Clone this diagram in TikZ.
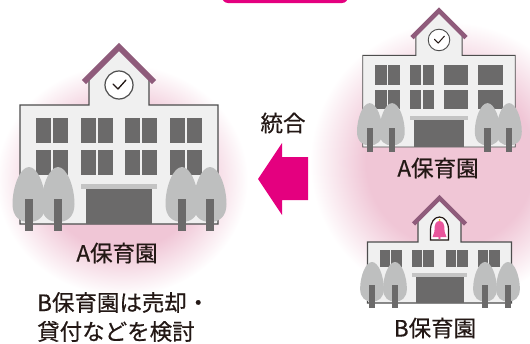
\documentclass[tikz,border=0pt]{standalone}
\usepackage{fontspec}
\setmainfont{Noto Sans CJK JP}[FakeBold=0.5]
\usepackage{xcolor}

\definecolor{glowpink}{HTML}{F0C6D6}
\definecolor{accent}{HTML}{E4007F}
\definecolor{roofpurple}{HTML}{8F5B7B}
\definecolor{wallgray}{HTML}{F0F0F0}
\definecolor{linegray}{HTML}{4D4D4D}
\definecolor{panegray}{HTML}{6B6A6A}
\definecolor{crowngray}{HTML}{BEBFBF}
\definecolor{awninggray}{HTML}{C4C4C4}
\definecolor{bellpink}{HTML}{E8559B}
\definecolor{bellgold}{HTML}{F2C500}
\definecolor{textdark}{HTML}{231815}

\pgfdeclareradialshading{glow}{\pgfpointorigin}{color(0bp)=(glowpink); color(15bp)=(glowpink); color(25bp)=(white); color(50bp)=(white)}

\tikzset{
  wall/.style={fill=wallgray, draw=linegray},
  roof/.style={draw=roofpurple},
  pane/.style={fill=panegray},
  mullion/.style={draw=wallgray},
  crown/.style={fill=crowngray},
  trunk/.style={fill=panegray},
  awning/.style={fill=awninggray},
  clockface/.style={fill=white, draw=linegray},
  hands/.style={draw=textdark, line cap=round, line join=round},
  namelabel/.style={text=textdark, font=\fontsize{22.5}{29}\selectfont, inner sep=0pt}
}

% tree: x, top of crown, size
\newcommand{\parktree}[3]{%
  \fill[crown] (#1,#2) .. controls (#1+9*#3,#2) and (#1+16.5*#3,#2+20*#3) .. (#1+16.5*#3,#2+37*#3)
    .. controls (#1+16.5*#3,#2+50*#3) and (#1+9*#3,#2+55*#3) .. (#1,#2+55*#3)
    .. controls (#1-9*#3,#2+55*#3) and (#1-16.5*#3,#2+50*#3) .. (#1-16.5*#3,#2+37*#3)
    .. controls (#1-16.5*#3,#2+20*#3) and (#1-9*#3,#2) .. (#1,#2) -- cycle;
  \fill[trunk] (#1-4*#3,#2+32*#3) rectangle (#1+4*#3,#2+64*#3);
}

% school with clock tower: x, ground, scale, split windows
\newcommand{\clockschool}[4]{%
  \begin{scope}[shift={(#1,#2)}, scale=#3]
    \filldraw[wall, line width=1.2pt*#3] (-99,0) -- (-99,-119) -- (-30,-119) -- (-30,-147) -- (0,-177)
      -- (30,-147) -- (30,-119) -- (99,-119) -- (99,0) -- cycle;
    \draw[roof, line width=6pt*#3] (-35,-142) -- (0,-177) -- (35,-142);
    \filldraw[clockface, line width=1.2pt*#3] (0,-139) circle (14);
    \draw[hands, line width=1.3pt*#3] (-6,-140) -- (-1,-135) -- (7,-144);
    \foreach \wx in {-83,-38,6,51} {
      \fill[pane] (\wx,-106) rectangle ++(32,25);
      \fill[pane] (\wx,-74) rectangle ++(32,25);
    }
    \foreach \wx in {#4}
      \draw[mullion, line width=2pt*#3] (\wx+16,-107) -- (\wx+16,-48);
    \fill[awning] (-38,-40) rectangle (38,-35);
    \fill[pane] (-33,-35) rectangle (33,0);
    \parktree{-90}{-57}{1}
    \parktree{-61}{-57}{1}
    \parktree{63}{-57}{1}
    \parktree{91}{-57}{1}
  \end{scope}
}

\begin{document}
\begin{tikzpicture}[x=1pt, y=-1pt]
  \useasboundingbox (0,0) rectangle (530,343);

  % pink glow behind the buildings
  \shade[shading=glow] (122,180) ellipse (126 and 116);
  \shade[shading=glow] (450,162) circle (140);

  % banner edge
  \fill[accent, rounded corners=6] (222,-20) rectangle (348,3);

  % the merged school
  \clockschool{119}{224}{1}{-83,-38,6,51}
  \node[namelabel] (a-left) at (117,253) {A保育園};

  % A school, right
  \clockschool{439}{147}{0.77}{-83,-38}
  \node[namelabel] (a-right) at (438,168) {A保育園};

  % B school with bell
  \begin{scope}[shift={(439.5,303)}]
    \filldraw[wall, line width=1.1pt] (-72,0) -- (-72,-61) -- (-21.5,-61) -- (-21.5,-83.5) -- (0,-105)
      -- (21.5,-83.5) -- (21.5,-61) -- (72,-61) -- (72,0) -- cycle;
    \draw[roof, line width=4.5pt] (-26,-79) -- (0,-105) -- (26,-79);
    \filldraw[fill=white, draw=textdark, line width=1.2pt] (-9,-63) -- (-9,-73)
      .. controls (-9,-81) and (-5,-86) .. (0,-86) .. controls (5,-86) and (9,-81) .. (9,-73) -- (9,-63) -- cycle;
    \fill[bellpink] (0,-82) .. controls (4,-82) and (5,-78) .. (5,-73) .. controls (5,-69) and (7,-68) .. (7,-66)
      -- (-7,-66) .. controls (-7,-68) and (-5,-69) .. (-5,-73) .. controls (-5,-78) and (-4,-82) .. (0,-82) -- cycle;
    \fill[bellpink] (0,-65) circle (1.3);
    \fill[bellgold] (0,-83) circle (1);
    \foreach \wx in {-60,-28,6,38} {
      \fill[pane] (\wx,-53) rectangle ++(22,17);
      \draw[mullion, line width=1.6pt] (\wx+11,-54) -- (\wx+11,-35);
    }
    \fill[awning] (-27.5,-30) rectangle (27.5,-26);
    \fill[pane] (-24,-26) rectangle (24,0);
    \parktree{-67.5}{-41}{0.72}
    \parktree{-44.5}{-41}{0.72}
    \parktree{45.5}{-41}{0.72}
    \parktree{68.5}{-41}{0.72}
  \end{scope}
  \node[namelabel] (b-right) at (435,328) {B保育園};

  % merge arrow
  \node[namelabel] (merge) at (283,123) {統合};
  \fill[accent] (308,157) -- (282,157) -- (282,143) -- (258,179) -- (282,215) -- (282,200) -- (308,200) -- cycle;

  \node[namelabel, anchor=west, align=left] (plan) at (37,317) {B保育園は売却・\\貸付などを検討};
\end{tikzpicture}
\end{document}
